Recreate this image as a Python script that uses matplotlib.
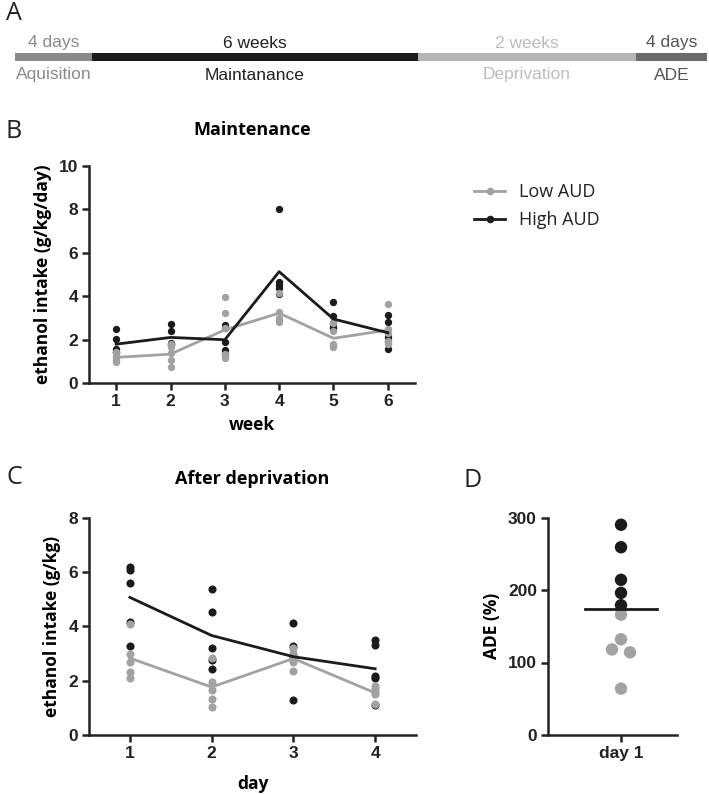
import matplotlib
matplotlib.use("Agg")
import matplotlib.pyplot as plt
import numpy as np
from matplotlib.lines import Line2D

# ---------------- data ----------------
weeks = [1, 2, 3, 4, 5, 6]
low_week = [
    [1.45, 1.30, 1.15, 1.05, 0.95],
    [1.80, 1.67, 1.37, 1.06, 0.75],
    [3.98, 3.21, 2.55, 1.35, 1.15],
    [4.15, 3.25, 3.00, 2.90, 2.80],
    [2.75, 2.40, 1.80, 1.70, 1.65],
    [3.64, 2.50, 2.30, 1.95, 1.80],
]
high_week = [
    [2.48, 2.02, 1.56, 1.45, 1.44],
    [2.72, 2.41, 1.85, 1.78, 1.74],
    [2.67, 2.55, 1.90, 1.50, 1.35],
    [8.02, 4.67, 4.50, 4.36, 4.10],
    [3.75, 3.09, 2.75, 2.60, 2.55],
    [3.13, 2.83, 2.10, 1.95, 1.57],
]
days = [1, 2, 3, 4]
low_day = [
    [4.08, 2.98, 2.67, 2.33, 2.08],
    [2.82, 1.96, 1.65, 1.34, 1.04],
    [3.19, 3.00, 2.82, 2.70, 2.35],
    [1.80, 1.70, 1.60, 1.50, 1.15],
]
high_day = [
    [6.19, 6.07, 5.60, 4.17, 3.28],
    [5.36, 4.53, 3.21, 2.76, 2.44],
    [4.13, 3.27, 2.90, 2.81, 1.29],
    [3.48, 3.32, 2.18, 2.10, 1.10],
]
ade_high = [290, 259, 214, 196, 179]
ade_low = [166, 132, 118, 114, 64]

phase_durations = ["4 days", "6 weeks", "2 weeks", "4 days"]
phase_names = ["Aquisition", "Maintanance", "Deprivation", "ADE"]

# ---------------- style / layout ----------------
W, H = 709, 794
BLACK = "#1b1b1b"
GRAY = "#a2a2a2"
phase_bar_colors = ["#8a8a8a", "#1c1c1c", "#b5b5b5", "#6a6a6a"]
phase_text_colors = ["#8a8a8a", "#222222", "#bdbdbd", "#555555"]
phase_edges_px = [15, 92, 418, 636, 707]

TICKF = dict(family="Liberation Sans", weight="bold", size=12.5)
LABELF = dict(family="Open Sans", weight="bold", size=12.5)
TITLEF = dict(family="Open Sans", weight="bold", size=13)
LETTERF = dict(family="Open Sans", weight="normal", size=18, color="#222222")

fig = plt.figure(figsize=(W / 100, H / 100), dpi=100)


def px_axes(left, top, right, bottom):
    return fig.add_axes([left / W, 1 - bottom / H, (right - left) / W, (bottom - top) / H])


def style_axes(ax):
    for s in ["top", "right"]:
        ax.spines[s].set_visible(False)
    for s in ["left", "bottom"]:
        ax.spines[s].set_linewidth(1.8)
        ax.spines[s].set_color("#222222")
    ax.tick_params(width=1.8, length=5, color="#222222", labelcolor="#222222", pad=3)
    for lab in ax.get_xticklabels() + ax.get_yticklabels():
        lab.set_fontfamily(TICKF["family"])
        lab.set_fontweight(TICKF["weight"])
        lab.set_fontsize(TICKF["size"])


# ---------------- Panel A: timeline ----------------
axA = px_axes(0, 0, W, 90)
axA.set_xlim(0, W)
axA.set_ylim(90, 0)
axA.axis("off")
for i in range(4):
    x0, x1 = phase_edges_px[i], phase_edges_px[i + 1]
    axA.barh(57, x1 - x0, left=x0, height=8, color=phase_bar_colors[i], edgecolor="none")
    xc = (x0 + x1) / 2
    axA.text(xc, 43, phase_durations[i], ha="center", va="center",
             family="Liberation Sans", size=12.5, color=phase_text_colors[i])
    axA.text(xc, 75, phase_names[i], ha="center", va="center",
             family="Liberation Sans", size=12.5, color=phase_text_colors[i])
fig.text(6 / W, 1 - 14 / H, "A", ha="left", va="center", **LETTERF)

# ---------------- Panel B ----------------
axB = px_axes(89, 166, 415, 383)
for w, vals in zip(weeks, high_week):
    axB.scatter([w] * len(vals), vals, s=28, color=BLACK, zorder=3, linewidths=0)
for w, vals in zip(weeks, low_week):
    axB.scatter([w] * len(vals), vals, s=28, color=GRAY, zorder=3, linewidths=0)
axB.plot(weeks, [np.mean(v) for v in low_week], color=GRAY, lw=2.0, zorder=4)
axB.plot(weeks, [np.mean(v) for v in high_week], color=BLACK, lw=2.0, zorder=5)
axB.set_xlim(0.5, 6.5)
axB.set_ylim(0, 10)
axB.set_xticks(weeks)
axB.set_yticks([0, 2, 4, 6, 8, 10])
style_axes(axB)
axB.set_xlabel("week", labelpad=5, **LABELF)
axB.set_ylabel("ethanol intake (g/kg/day)", labelpad=5, **LABELF)
axB.set_title("Maintenance", pad=22, **TITLEF)
fig.text(6 / W, 1 - 131 / H, "B", ha="left", va="center", **LETTERF)

handles = [
    Line2D([], [], color=GRAY, lw=2.0, marker="o", markersize=5.5, markeredgewidth=0),
    Line2D([], [], color=BLACK, lw=2.0, marker="o", markersize=5.5, markeredgewidth=0),
]
fig.legend(handles, ["Low AUD", "High AUD"], loc="upper left",
           bbox_to_anchor=(458 / W, 1 - 167 / H), frameon=False,
           handlelength=1.7, handletextpad=0.8, labelspacing=0.55,
           prop=dict(family="Open Sans", size=13), labelcolor="#222222")

# ---------------- Panel C ----------------
axC = px_axes(89, 517.5, 416, 735)
for d, vals in zip(days, high_day):
    axC.scatter([d] * len(vals), vals, s=34, color=BLACK, zorder=3, linewidths=0)
for d, vals in zip(days, low_day):
    axC.scatter([d] * len(vals), vals, s=34, color=GRAY, zorder=3, linewidths=0)
axC.plot(days, [np.mean(v) for v in low_day], color=GRAY, lw=2.0, zorder=4)
axC.plot(days, [np.mean(v) for v in high_day], color=BLACK, lw=2.0, zorder=5)
axC.set_xlim(0.5, 4.5)
axC.set_ylim(0, 8)
axC.set_xticks(days)
axC.set_yticks([0, 2, 4, 6, 8])
style_axes(axC)
axC.set_xlabel("day", labelpad=10, **LABELF)
axC.set_ylabel("ethanol intake (g/kg)", labelpad=5, **LABELF)
axC.set_title("After deprivation", pad=24, **TITLEF)
fig.text(6 / W, 1 - 477 / H, "C", ha="left", va="center", **LETTERF)

# ---------------- Panel D ----------------
axD = px_axes(548, 517.5, 677, 735)
all_vals = ade_high + ade_low
colors = [BLACK] * len(ade_high) + [GRAY] * len(ade_low)
order = np.argsort(all_vals)[::-1]
# symmetric spreading of near-coincident points (swarm-like)
thr, dx = 10.0, 0.14
xs = np.zeros(len(all_vals))
clusters = []
for idx in order:
    if clusters and abs(all_vals[clusters[-1][-1]] - all_vals[idx]) < thr:
        clusters[-1].append(idx)
    else:
        clusters.append([idx])
for cl in clusters:
    n = len(cl)
    for k, idx in enumerate(cl):
        xs[idx] = (k - (n - 1) / 2) * dx
axD.scatter(xs, all_vals, s=80, c=colors, zorder=3, linewidths=0)
m = np.mean(all_vals)
axD.plot([-0.28, 0.28], [m, m], color=BLACK, lw=2.0, zorder=4)
axD.set_xlim(-0.566, 0.434)
axD.set_ylim(0, 300)
axD.set_xticks([0])
axD.set_xticklabels(["day 1"])
axD.set_yticks([0, 100, 200, 300])
style_axes(axD)
axD.set_ylabel("ADE (%)", labelpad=5, **LABELF)
fig.text(464 / W, 1 - 480 / H, "D", ha="left", va="center", **LETTERF)

fig.savefig("out.png", dpi=100)
